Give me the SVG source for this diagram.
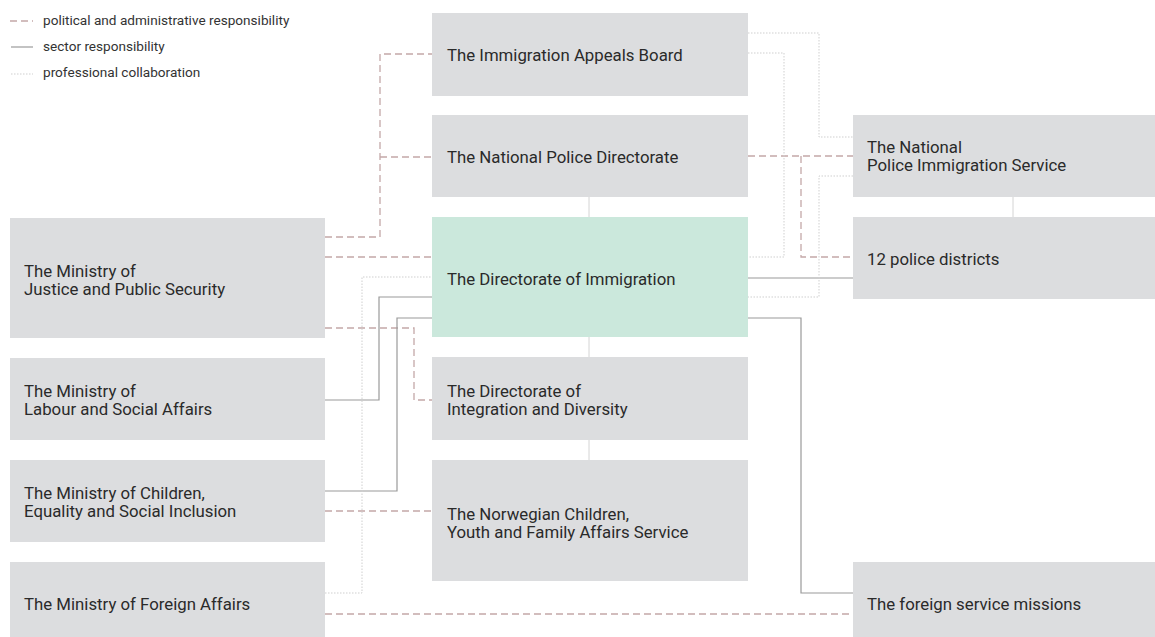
<svg xmlns="http://www.w3.org/2000/svg" width="1155" height="637" viewBox="0 0 1155 637">
<style>
.box{fill:#dcdddf}
.hl{fill:#cbe8dc}
.t{font-family:Roboto,"Liberation Sans",sans-serif;font-size:16.8px;fill:#2a2a2a}
.lg{font-family:Roboto,"Liberation Sans",sans-serif;font-size:13.6px;fill:#333}
.pol{fill:none;stroke:#c4a8a8;stroke-width:1.3;stroke-dasharray:7 4}
.sec{fill:none;stroke:#9a9a9a;stroke-width:1.2}
.pro{fill:none;stroke:#cfcfcf;stroke-width:1;stroke-dasharray:1.5 1.5}
.lnk{fill:none;stroke:#d4d4d4;stroke-width:1}
</style>
<rect width="1155" height="637" fill="#ffffff"/>
<g id="legend">
<line class="pol" x1="10" y1="21" x2="33" y2="21"/>
<text class="lg" x="43" y="25">political and administrative responsibility</text>
<line class="sec" x1="11" y1="47" x2="33" y2="47"/>
<text class="lg" x="43" y="51">sector responsibility</text>
<line class="pro" x1="11" y1="74" x2="33" y2="74"/>
<text class="lg" x="43" y="77">professional collaboration</text>
</g>
<g id="connectors">
<path class="pol" d="M325 237 H380 V54 H432"/>
<path class="pol" d="M380 157 H432"/>
<path class="pol" d="M325 257 H432"/>
<path class="pol" d="M325 328 H414 V400 H432"/>
<path class="pol" d="M325 511 H432"/>
<path class="pol" d="M325 614 H853"/>
<path class="pol" d="M748 156 H853"/>
<path class="pol" d="M801 156 V257 H853"/>
<path class="sec" d="M325 400 H379 V297 H432"/>
<path class="sec" d="M325 491 H397 V318 H432"/>
<path class="sec" d="M748 278 H853"/>
<path class="sec" d="M748 318 H801 V593 H853"/>
<path class="pro" d="M325 593 H362 V277 H432"/>
<path class="pro" d="M748 33 H819 V137 H853"/>
<path class="pro" d="M748 53 H784 V257 H748"/>
<path class="pro" d="M853 176 H819 V297 H748"/>
<line class="lnk" x1="589" y1="197" x2="589" y2="217"/>
<line class="lnk" x1="589" y1="337" x2="589" y2="357"/>
<line class="lnk" x1="589" y1="440" x2="589" y2="460"/>
<line class="lnk" x1="1013" y1="197" x2="1013" y2="217"/>
</g>
<g id="n-appeals"><rect class="box" x="432" y="13" width="316" height="83"/><text class="t" x="447" y="61">The Immigration Appeals Board</text></g>
<g id="n-npd"><rect class="box" x="432" y="115" width="316" height="82"/><text class="t" x="447" y="163">The National Police Directorate</text></g>
<g id="n-udi"><rect class="hl" x="432" y="217" width="316" height="120"/><text class="t" x="447" y="285">The Directorate of Immigration</text></g>
<g id="n-imdi"><rect class="box" x="432" y="357" width="316" height="83"/><text class="t" x="447" y="397">The Directorate of</text><text class="t" x="447" y="415">Integration and Diversity</text></g>
<g id="n-bufetat"><rect class="box" x="432" y="460" width="316" height="121"/><text class="t" x="447" y="520">The Norwegian Children,</text><text class="t" x="447" y="538">Youth and Family Affairs Service</text></g>
<g id="n-jd"><rect class="box" x="10" y="218" width="315" height="120"/><text class="t" x="24" y="277">The Ministry of</text><text class="t" x="24" y="295">Justice and Public Security</text></g>
<g id="n-asd"><rect class="box" x="10" y="358" width="315" height="82"/><text class="t" x="24" y="397">The Ministry of</text><text class="t" x="24" y="415">Labour and Social Affairs</text></g>
<g id="n-bld"><rect class="box" x="10" y="460" width="315" height="82"/><text class="t" x="24" y="499">The Ministry of Children,</text><text class="t" x="24" y="517">Equality and Social Inclusion</text></g>
<g id="n-ud"><rect class="box" x="10" y="562" width="315" height="75"/><text class="t" x="24" y="610">The Ministry of Foreign Affairs</text></g>
<g id="n-pu"><rect class="box" x="853" y="115" width="302" height="82"/><text class="t" x="867" y="153">The National</text><text class="t" x="867" y="171">Police Immigration Service</text></g>
<g id="n-districts"><rect class="box" x="853" y="217" width="302" height="82"/><text class="t" x="867" y="265">12 police districts</text></g>
<g id="n-missions"><rect class="box" x="853" y="562" width="302" height="75"/><text class="t" x="867" y="610">The foreign service missions</text></g>
</svg>
